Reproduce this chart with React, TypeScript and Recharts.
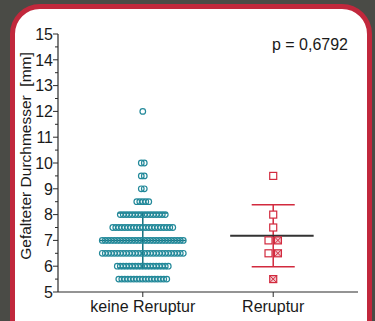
import React from "react";
import {
  ScatterChart,
  Scatter,
  XAxis,
  YAxis,
  ReferenceLine,
} from "recharts";

// categories and axis ticks
const categories = ["keine Reruptur", "Reruptur"];
const yTicks = [5, 5.5, 6, 6.5, 7, 7.5, 8, 8.5, 9, 9.5, 10, 10.5, 11, 11.5, 12, 12.5, 13, 13.5, 14, 14.5, 15];

// keine Reruptur: value levels and how many points sit on each
const keineLevels = [5.5, 6, 6.5, 7, 7.5, 8, 8.5, 9, 9.5, 10, 12];
const keineCounts = [17, 18, 28, 28, 21, 16, 5, 2, 2, 2, 1];

// Reruptur points
const rerupturValues = [9.5, 8, 7.5, 7, 7, 6.5, 6.5, 5.5];
const rerupturCrossed = [false, false, false, false, true, false, true, true];

// mean and SD
const keineMean = 7.0;
const keineSd = [5.93, 8.06];
const rerupturMean = 7.18;
const rerupturSd = [5.98, 8.38];

const pValue = "p = 0,6792";

const TEAL = "#23899a";
const TEAL_DARK = "#14707e";
const RED = "#d22a3e";
const AXIS = "#2a2a2a";
const FONT = "'Liberation Sans', Arial, sans-serif";

const X_DOMAIN: [number, number] = [-0.65, 1.65];
const PX = (X_DOMAIN[1] - X_DOMAIN[0]) / 300; // x units per pixel of plot width
const STEP = 3 * PX;

const keineData = keineLevels.flatMap((y, li) => {
  const n = keineCounts[li];
  return Array.from({ length: n }, (_, i) => ({ x: 0 + (i - (n - 1) / 2) * STEP, y }));
});

const rerupturData = rerupturValues.map((y, i) => {
  const dup = rerupturValues.filter((v) => v === y).length > 1;
  const offset = dup ? (rerupturCrossed[i] ? 4.7 : -4.7) * PX : 0;
  return { x: 1 + offset, y, crossed: rerupturCrossed[i] };
});

const Circle = (props: any) => {
  const { cx, cy } = props;
  return <circle cx={cx} cy={cy} r={2.8} fill="none" stroke={TEAL} strokeWidth={1.2} />;
};

const Square = (props: any) => {
  const { cx, cy, payload } = props;
  const s = 3.5;
  return (
    <g>
      <rect x={cx - s} y={cy - s} width={2 * s} height={2 * s} fill={payload.crossed ? "#f3c4ca" : "#fff"} stroke={RED} strokeWidth={1.2} />
      {payload.crossed && (
        <g stroke={RED} strokeWidth={1}>
          <line x1={cx - s} y1={cy - s} x2={cx + s} y2={cy + s} />
          <line x1={cx - s} y1={cy + s} x2={cx + s} y2={cy - s} />
        </g>
      )}
    </g>
  );
};

const YTick = (props: any) => {
  const { x, y, payload } = props;
  const major = Number.isInteger(payload.value);
  return (
    <g>
      <line x1={x - (major ? 5 : 3)} x2={x} y1={y} y2={y} stroke={AXIS} strokeWidth={1} />
      {major && (
        <text x={x - 5} y={y} dy="0.36em" textAnchor="end" fontSize={16} fontFamily={FONT} fill="#1a1a1a">
          {payload.value}
        </text>
      )}
    </g>
  );
};

const XTick = (props: any) => {
  const { x, y, payload } = props;
  return (
    <g>
      <line x1={x} x2={x} y1={y} y2={y + 5} stroke={AXIS} strokeWidth={1} />
      <text x={x} y={y + 20} textAnchor="middle" fontSize={16} fontFamily={FONT} fill="#1a1a1a">
        {categories[payload.value]}
      </text>
    </g>
  );
};

export default function App() {
  return (
    <div style={{ position: "absolute", left: 0, top: 0, width: 375, height: 321, overflow: "hidden", background: "#4a4b46" }}>
      <div
        style={{
          position: "absolute",
          left: 10,
          top: 4,
          width: 352,
          height: 340,
          border: "5px solid #c1283c",
          borderRadius: 30,
          background: "#fff",
        }}
      />
      <div style={{ position: "absolute", left: 0, top: 0 }}>
        <ScatterChart width={375} height={321} margin={{ top: 34, right: 17, bottom: 0, left: 0 }}>
          <XAxis
            dataKey="x"
            type="number"
            domain={X_DOMAIN}
            ticks={[0, 1]}
            height={29}
            tickSize={0}
            tickMargin={0}
            tickLine={false}
            axisLine={{ stroke: AXIS, strokeWidth: 1.2 }}
            tick={<XTick />}
            allowDataOverflow
          />
          <YAxis
            dataKey="y"
            type="number"
            domain={[5, 15]}
            ticks={yTicks}
            interval={0}
            width={58}
            tickSize={0}
            tickMargin={0}
            tickLine={false}
            axisLine={{ stroke: AXIS, strokeWidth: 1.2 }}
            tick={<YTick />}
            label={{
              content: () => (
                <text
                  x={25}
                  y={156}
                  transform="rotate(-90 25 156)"
                  textAnchor="middle"
                  dominantBaseline="central"
                  fontSize={15.5}
                  fontFamily={FONT}
                  fill="#1a1a1a"
                >
                  {"Gefalteter Durchmesser\u00a0 [mm]"}
                </text>
              ),
            }}
          />
          <XAxis xAxisId="top" orientation="top" type="number" domain={X_DOMAIN} height={0} tick={false} tickLine={false} axisLine={{ stroke: AXIS, strokeWidth: 1.2 }} />
          <YAxis yAxisId="right" orientation="right" type="number" domain={[5, 15]} width={0} tick={false} tickLine={false} axisLine={{ stroke: AXIS, strokeWidth: 1.2 }} />

          <ReferenceLine segment={[{ x: 0, y: keineSd[0] }, { x: 0, y: keineSd[1] }]} stroke={TEAL_DARK} strokeWidth={1.5} />
          <ReferenceLine segment={[{ x: -0.19, y: keineSd[0] }, { x: 0.19, y: keineSd[0] }]} stroke={TEAL_DARK} strokeWidth={1.5} />
          <ReferenceLine segment={[{ x: -0.19, y: keineSd[1] }, { x: 0.19, y: keineSd[1] }]} stroke={TEAL_DARK} strokeWidth={1.5} />
          <ReferenceLine segment={[{ x: -0.33, y: keineMean }, { x: 0.33, y: keineMean }]} stroke={TEAL_DARK} strokeWidth={1.5} />

          <ReferenceLine segment={[{ x: 1, y: rerupturSd[0] }, { x: 1, y: rerupturSd[1] }]} stroke={RED} strokeWidth={1.5} />
          <ReferenceLine segment={[{ x: 0.835, y: rerupturSd[0] }, { x: 1.165, y: rerupturSd[0] }]} stroke={RED} strokeWidth={1.5} />
          <ReferenceLine segment={[{ x: 0.835, y: rerupturSd[1] }, { x: 1.165, y: rerupturSd[1] }]} stroke={RED} strokeWidth={1.5} />
          <ReferenceLine segment={[{ x: 0.67, y: rerupturMean }, { x: 1.31, y: rerupturMean }]} stroke="#333" strokeWidth={1.8} />

          <Scatter data={keineData} shape={<Circle />} isAnimationActive={false} />
          <Scatter data={rerupturData} shape={<Square />} isAnimationActive={false} />
        </ScatterChart>
      </div>
      <div
        style={{
          position: "absolute",
          right: 27,
          top: 36,
          fontSize: 16,
          fontFamily: FONT,
          color: "#1a1a1a",
          lineHeight: "18px",
        }}
      >
        {pValue}
      </div>
    </div>
  );
}
